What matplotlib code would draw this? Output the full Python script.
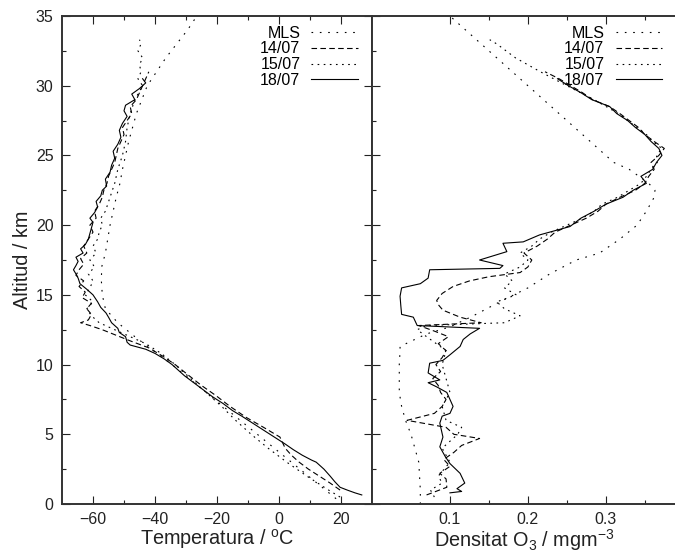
import numpy as np
import matplotlib
matplotlib.use('Agg')
import matplotlib.pyplot as plt

plt.rcParams['font.family'] = ['Liberation Sans', 'DejaVu Sans']
plt.rcParams['mathtext.fontset'] = 'custom'
plt.rcParams['mathtext.rm'] = 'Liberation Sans'
plt.rcParams['mathtext.it'] = 'Liberation Sans'

# ---- temperature profiles (altitude km, temperature degC) ----
alt_T_mls = [0, 2, 4, 6, 8, 10, 11, 12, 13, 14, 15, 16, 17, 18, 20, 22, 23, 24, 26, 28,
             30, 31, 32, 33, 34, 35]
T_mls = [20.5, 9.5, -1.5, -12.5, -23.5, -34.5, -40.5, -46.5, -52.0, -56.0, -57.0, -57.3,
         -57.2, -56.0, -54.5, -52.5, -51.3, -50.5, -48.5, -46.0, -42.5, -39.5, -36.5,
         -33.0, -29.5, -26.5]

alt_T_1407 = [1.0, 1.5, 2.0, 2.5, 3.0, 3.5, 4.0, 4.8, 5.5, 6.2, 7.0, 7.8, 8.5, 9.2, 10.0,
              10.6, 11.2, 11.7, 12.1, 12.5, 12.8, 13.0, 13.2, 13.6, 14.0, 14.4, 14.8, 15.2,
              15.6, 16.0, 16.4, 16.8, 17.2, 17.6, 18.0, 18.5, 19.0, 19.5, 20.0, 20.5, 21.0,
              21.5, 22.0, 22.5, 23.0, 23.5, 24.0, 24.5, 25.0, 25.5, 26.0, 26.5, 27.0, 27.5,
              28.0, 28.5, 29.0, 29.5, 30.0, 30.5, 31.0]
T_1407 = [19.7, 16.5, 13.0, 9.5, 6.5, 4.0, 2.0, 0.3, -5.0, -10.5, -15.8, -20.5, -25.0,
          -29.0, -33.5, -37.5, -42.0, -48.0, -52.5, -57.0, -61.0, -64.0, -61.5, -60.5,
          -62.0, -60.5, -63.5, -62.5, -64.5, -63.0, -65.5, -64.5, -63.0, -64.0, -62.0,
          -63.0, -61.5, -60.0, -61.0, -59.0, -59.5, -58.0, -57.0, -56.5, -55.5, -55.0,
          -54.0, -53.0, -52.5, -52.0, -51.0, -50.0, -50.5, -49.0, -47.5, -48.0, -46.0,
          -45.0, -44.0, -43.0, -42.0]

alt_T_1507 = [0.5, 1.0, 1.5, 2.0, 3.0, 4.0, 5.0, 6.0, 7.0, 8.0, 9.0, 10.0, 10.8, 11.5, 12.0,
              12.5, 13.0, 13.5, 14.0, 14.5, 15.0, 15.5, 16.0, 16.5, 17.0, 17.5, 18.0, 18.5,
              19.0, 19.5, 20.0, 20.5, 21.0, 22.0, 23.0, 24.0, 25.0, 26.0, 27.0, 28.0, 29.0,
              30.0, 30.5, 31.0, 31.5, 32.0, 32.5, 33.0, 33.3]
T_1507 = [19.7, 16.0, 12.5, 9.0, 2.5, -3.5, -9.0, -14.0, -18.5, -23.5, -28.5, -33.5, -38.0,
          -43.0, -48.0, -53.0, -58.0, -60.5, -62.0, -60.0, -62.5, -61.0, -60.0, -61.5,
          -59.5, -61.0, -59.0, -60.0, -58.5, -58.0, -57.0, -57.5, -56.0, -54.5, -53.0,
          -52.0, -50.5, -49.5, -49.0, -48.0, -46.5, -44.0, -45.5, -44.5, -45.0, -44.0,
          -45.5, -44.5, -45.0]

alt_T_1807 = [0.65, 0.8, 1.0, 1.2, 1.6, 2.0, 2.5, 3.0, 3.15, 3.5, 3.9, 4.3, 4.8, 5.3, 5.8,
              6.3, 6.7, 7.2, 7.7, 8.2, 8.7, 9.2, 9.7, 10.0, 10.4, 10.8, 11.1, 11.4, 11.6,
              12.0, 12.3, 12.6, 13.0, 13.4, 13.7, 14.1, 14.5, 15.0, 15.4, 15.8, 16.2, 16.5,
              16.8, 17.1, 17.4, 17.7, 18.0, 18.3, 18.6, 19.0, 19.4, 19.8, 20.2, 20.5, 20.9,
              21.3, 21.7, 22.1, 22.5, 22.8, 23.3, 23.8, 24.3, 24.8, 25.3, 25.8, 26.3, 26.8,
              27.3, 27.8, 28.2, 28.6, 29.0, 29.4, 29.8, 30.2, 30.5]
T_1807 = [26.7, 24.5, 22.0, 19.7, 18.0, 16.5, 14.5, 12.0, 10.5, 7.5, 4.6, 2.0, -1.5, -5.0,
          -8.5, -12.0, -15.0, -18.0, -21.5, -24.5, -27.5, -30.5, -33.0, -34.5, -37.0,
          -40.0, -43.0, -48.0, -49.0, -49.5, -51.5, -52.0, -54.0, -55.0, -55.8, -57.5,
          -58.5, -60.0, -62.0, -64.2, -64.8, -65.5, -66.3, -65.5, -64.8, -65.5, -63.2,
          -64.0, -62.5, -61.5, -61.0, -60.5, -60.0, -61.0, -59.5, -58.5, -59.0, -57.5,
          -57.0, -55.6, -56.0, -54.5, -54.0, -53.0, -53.5, -52.0, -51.0, -51.5, -50.5,
          -49.0, -50.0, -49.5, -46.5, -47.5, -45.0, -43.0, -44.0]

# ---- ozone density profiles (altitude km, mg m^-3) ----
alt_O3_mls = [0, 1, 2, 3, 4, 5, 6, 7, 8, 9, 10, 11, 11.3, 12.2, 12.7, 13.5, 14.5, 15.5,
              16.5, 17.5, 18.0, 19.0, 20.0, 21.0, 22.0, 22.5, 23.0, 24.0, 24.5, 26, 28, 30,
              32, 34, 35]
O3_mls = [0.062, 0.062, 0.061, 0.060, 0.055, 0.050, 0.043, 0.038, 0.035, 0.035, 0.035,
          0.036, 0.036, 0.070, 0.100, 0.130, 0.164, 0.200, 0.228, 0.262, 0.292, 0.318,
          0.340, 0.352, 0.362, 0.363, 0.355, 0.330, 0.310, 0.280, 0.240, 0.200, 0.160,
          0.120, 0.100]

alt_O3_1407 = [0.65, 1.2, 1.8, 2.2, 2.7, 3.2, 3.7, 4.2, 4.7, 5.0, 5.5, 6.0, 6.5, 7.0, 7.5,
               8.0, 8.5, 9.0, 9.5, 10.0, 10.5, 11.0, 11.5, 12.0, 12.4, 12.8, 13.0, 13.4,
               13.9, 14.3, 14.6, 15.1, 15.6, 16.0, 16.3, 16.6, 17.0, 17.5, 18.0, 18.5, 19.0,
               19.5, 20.0, 20.5, 21.0, 21.5, 22.0, 22.5, 23.0, 23.5, 24.0, 24.5, 25.0, 25.5,
               26.0, 26.5, 27.0, 27.5, 28.0, 28.5, 29.0, 29.5, 30.0, 30.5, 31.0]
O3_1407 = [0.070, 0.096, 0.095, 0.087, 0.100, 0.092, 0.105, 0.115, 0.138, 0.105, 0.095,
           0.045, 0.080, 0.090, 0.095, 0.088, 0.085, 0.078, 0.088, 0.082, 0.090, 0.095,
           0.085, 0.098, 0.080, 0.060, 0.140, 0.113, 0.091, 0.085, 0.083, 0.090, 0.104,
           0.125, 0.150, 0.190, 0.200, 0.205, 0.195, 0.212, 0.225, 0.235, 0.255, 0.275,
           0.290, 0.300, 0.318, 0.338, 0.350, 0.355, 0.362, 0.358, 0.368, 0.375, 0.362,
           0.350, 0.342, 0.330, 0.318, 0.305, 0.283, 0.270, 0.255, 0.240, 0.222]

alt_O3_1507 = [0.5, 1.0, 1.5, 2.0, 3.0, 4.0, 5.0, 5.5, 6.0, 7.0, 8.0, 9.0, 10.0, 11.0, 12.0,
               12.5, 12.8, 13.0, 13.5, 14.0, 14.5, 15.0, 15.5, 16.0, 16.5, 17.0, 17.5, 18.0,
               18.5, 19.0, 19.5, 20.0, 20.5, 21.0, 21.5, 22.0, 22.5, 23.0, 23.5, 24.0, 24.5,
               25.0, 25.5, 26.0, 26.5, 27.0, 27.5, 28.0, 29.0, 30.0, 31.0, 32.0, 33.0, 33.3]
O3_1507 = [0.080, 0.075, 0.090, 0.085, 0.100, 0.090, 0.110, 0.115, 0.095, 0.090, 0.100,
           0.095, 0.090, 0.095, 0.070, 0.058, 0.070, 0.170, 0.190, 0.170, 0.160, 0.185,
           0.170, 0.180, 0.170, 0.190, 0.200, 0.190, 0.205, 0.215, 0.230, 0.250, 0.270,
           0.285, 0.295, 0.315, 0.330, 0.345, 0.352, 0.358, 0.366, 0.365, 0.372, 0.360,
           0.352, 0.340, 0.328, 0.316, 0.285, 0.250, 0.216, 0.184, 0.160, 0.151]

alt_O3_1807 = [0.8, 0.9, 1.1, 1.5, 2.2, 2.9, 3.4, 4.1, 4.8, 5.3, 5.8, 6.3, 6.5, 7.0, 7.5,
               8.0, 8.4, 8.7, 8.9, 9.4, 10.1, 10.3, 10.7, 11.3, 11.8, 12.2, 12.6, 12.8,
               13.4, 13.6, 14.2, 14.9, 15.5, 15.8, 16.2, 16.8, 16.9, 17.1, 17.5, 18.1, 18.7,
               18.8, 19.3, 19.9, 20.5, 21.0, 21.5, 22.0, 22.5, 23.0, 23.5, 24.0, 24.5, 25.0,
               25.5, 26.0, 26.5, 27.0, 27.5, 28.0, 28.5, 29.0, 29.5, 30.0, 30.5]
O3_1807 = [0.100, 0.115, 0.109, 0.119, 0.113, 0.100, 0.094, 0.087, 0.091, 0.089, 0.087,
           0.090, 0.100, 0.104, 0.100, 0.096, 0.083, 0.072, 0.087, 0.072, 0.074, 0.091,
           0.100, 0.113, 0.117, 0.126, 0.138, 0.058, 0.053, 0.038, 0.037, 0.036, 0.038,
           0.062, 0.072, 0.074, 0.164, 0.168, 0.138, 0.173, 0.168, 0.194, 0.215, 0.254,
           0.268, 0.285, 0.300, 0.322, 0.335, 0.352, 0.345, 0.360, 0.365, 0.372, 0.368,
           0.358, 0.350, 0.338, 0.328, 0.314, 0.305, 0.282, 0.268, 0.252, 0.238]

labels = ['MLS', '14/07', '15/07', '18/07']
styles = [dict(ls=(0, (1.5, 6))), dict(ls=(0, (5, 3))), dict(ls=(0, (1.5, 4))), dict(ls='-')]

W, H = 675, 556
fig = plt.figure(figsize=(W / 100, H / 100), dpi=100)
ax1 = fig.add_axes([62 / W, 52 / H, 310 / W, 488 / H])
ax2 = fig.add_axes([372 / W, 52 / H, 304 / W, 488 / H])

lw = 0.8
for x, y, lab, st in zip([T_mls, T_1407, T_1507, T_1807],
                         [alt_T_mls, alt_T_1407, alt_T_1507, alt_T_1807], labels, styles):
    ax1.plot(x, y, color='black', lw=lw, label=lab, **st)
for x, y, lab, st in zip([O3_mls, O3_1407, O3_1507, O3_1807],
                         [alt_O3_mls, alt_O3_1407, alt_O3_1507, alt_O3_1807], labels, styles):
    ax2.plot(x, y, color='black', lw=lw, label=lab, **st)

ax1.set_xlim(-70, 30)
ax1.set_xticks([-60, -40, -20, 0, 20])
ax1.set_xticks([-50, -30, -10, 10], minor=True)
ax2.set_xlim(0, 0.39)
ax2.set_xticks([0.1, 0.2, 0.3])
ax2.set_xticklabels(['0.1', '0.2', '0.3'])
ax2.set_xticks([0.15, 0.25, 0.35], minor=True)

for ax in (ax1, ax2):
    ax.set_ylim(0, 35)
    ax.set_yticks(np.arange(0, 36, 5))
    ax.set_yticks(np.arange(2.5, 35, 5), minor=True)
    ax.tick_params(which='both', direction='in', top=True, width=0.8, colors='#222222',
                   labelsize=11.5, labelcolor='#222222')
    ax.tick_params(which='major', length=6)
    ax.tick_params(which='minor', length=3)
    ax.tick_params(axis='x', pad=6)
    for s in ax.spines.values():
        s.set_linewidth(1.4)
        s.set_color('#333333')

ax1.tick_params(axis='y', right=True, pad=6)
ax2.tick_params(axis='y', left=True, right=False, labelleft=False)
ax2.spines['right'].set_visible(False)

ax1.set_ylabel('Altitud / km', fontsize=14.3, color='#222222', labelpad=3)
ax1.set_xlabel('Temperatura / $^{\\mathrm{o}}$C', fontsize=14.3, color='#222222', labelpad=0)
ax2.set_xlabel('Densitat O$_3$ / mgm$^{-3}$', fontsize=14.3, color='#222222', labelpad=0)

for ax in (ax1, ax2):
    ax.legend(loc='upper right', frameon=False, markerfirst=False, fontsize=11.5,
              handlelength=2.9, handletextpad=0.7, labelspacing=0.05,
              borderaxespad=0.2, bbox_to_anchor=(0.985, 1.0))

fig.savefig('out.png', dpi=100)
